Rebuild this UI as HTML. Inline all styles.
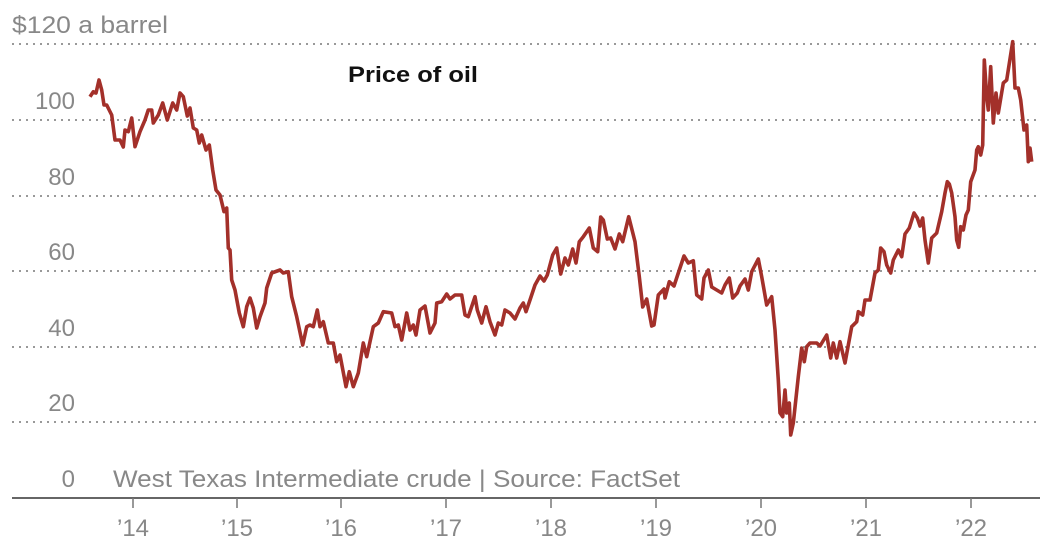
<!DOCTYPE html>
<html><head><meta charset="utf-8"><style>
html,body{margin:0;padding:0;background:#fff;}
svg{display:block;font-family:"Liberation Sans",sans-serif;}
</style></head><body>
<svg width="1050" height="549" viewBox="0 0 1050 549">
<g stroke="#999" stroke-width="2" stroke-dasharray="2 5" fill="none">
<line x1="12" y1="44" x2="1040" y2="44"/>
<line x1="12" y1="120" x2="1040" y2="120"/>
<line x1="12" y1="196" x2="1040" y2="196"/>
<line x1="12" y1="271" x2="1040" y2="271"/>
<line x1="12" y1="347" x2="1040" y2="347"/>
<line x1="12" y1="422" x2="1040" y2="422"/>
</g>
<g fill="#888" font-size="24" text-anchor="end">
<text x="75" y="109">100</text>
<text x="75" y="185">80</text>
<text x="75" y="260">60</text>
<text x="75" y="336">40</text>
<text x="75" y="411">20</text>
<text x="75" y="487">0</text>
</g>
<text x="12" y="33" fill="#888" font-size="24" textLength="156" lengthAdjust="spacingAndGlyphs">$120 a barrel</text>
<text x="113" y="487" fill="#888" font-size="24" textLength="567" lengthAdjust="spacingAndGlyphs">West Texas Intermediate crude | Source: FactSet</text>
<text x="348" y="82" fill="#111" font-size="22" font-weight="bold" textLength="130" lengthAdjust="spacingAndGlyphs">Price of oil</text>
<line x1="12" y1="498" x2="1040" y2="498" stroke="#333" stroke-width="1.5"/>
<g stroke="#777" stroke-width="1.5">
<line x1="133" y1="498" x2="133" y2="508"/><line x1="237" y1="498" x2="237" y2="508"/>
<line x1="341" y1="498" x2="341" y2="508"/><line x1="446" y1="498" x2="446" y2="508"/>
<line x1="551" y1="498" x2="551" y2="508"/><line x1="656" y1="498" x2="656" y2="508"/>
<line x1="761" y1="498" x2="761" y2="508"/><line x1="866" y1="498" x2="866" y2="508"/>
<line x1="971" y1="498" x2="971" y2="508"/>
</g>
<g fill="#888" font-size="24" text-anchor="middle">
<text x="133" y="536">’14</text><text x="237" y="536">’15</text><text x="341" y="536">’16</text>
<text x="446" y="536">’17</text><text x="551" y="536">’18</text><text x="656" y="536">’19</text>
<text x="761" y="536">’20</text><text x="866" y="536">’21</text><text x="971" y="536">’22</text>
</g>
<polyline fill="none" stroke="#a3302a" stroke-width="3.6" stroke-linejoin="round" points="
90,96.7 93.3,91.7 96,93 99,80 101.7,90 104,105 106.7,105 111.7,115 115,140 120,140 123.3,147 125,130 128.3,131.7 131.7,118 135,146.7 140,131.7 145,120 148.3,110 151.7,110 153.3,123 158.3,115 162.7,103 167.3,120 172.7,103 176.7,110 180,93 183.3,96.7 187.3,116 190,108 193.3,128 196.7,130 199.3,143 201.7,135 206,150 209.3,145 212.7,170 216,190 220,195 224,211.7 226.7,208 228.3,248 230,250 231.7,280 235,290 239.3,313 243.3,326.7 246.7,306.7 250,298 253.3,308 256.7,328 260,316.7 265,303 266.7,288 271.7,273 280,270 283.3,273 288.3,271.7 291.7,296.7 296.7,316.7 302.7,345 306.7,326.7 310,325 313.3,326.7 317.3,310 320,326.7 323.3,321.7 328.3,343 333.3,343 336.7,361.7 340,355 346,386.7 349.3,371.7 353.3,386.7 358.3,373 363.3,343 366.7,356.7 373.3,326.7 378.3,323 383.3,311.7 391.7,313 395,326.7 398.3,325 401.7,340 406.7,313 410,330 413.3,325 416,335 420,310 425,306 430,333 435,323 436.7,303 441.7,301.7 446.7,294 450,299 455,295 461.7,295 465,315 468.3,316.7 475,296.7 477.3,310 481.7,323 486,306.7 490,321.7 495,335 498.3,323 501.7,325 505,310 510,313 515,319 520,308 523.3,303 526,311.7 530,300 535,285 540,276 544,281 547.3,275 552.7,255 556.7,248 560.7,274 565,258 568.3,265 572.7,249 576,263 579.3,241.7 583.3,236.7 589.3,228 593.3,248 597.7,251.7 600.7,217 603.3,220 607.3,239 610.7,238 615,249 619.3,234 622.7,241.7 628.7,216.7 635,241.7 639.3,276.7 642.7,307 646.7,299 651.7,326 654,325 658.3,295 664,289 665,298 669.3,281.7 674,286 679.3,270 684,256 688.3,263 693.3,260.7 696.7,295 701.7,299 704,278 708.3,270 711.7,287 716.7,290 721.7,293 725,285 729.3,278 732.7,298 737.3,293 740,286 745,279 748.3,290 751.7,271.7 758.3,259 761.7,276.7 766.7,305 771.7,296.7 775,330 778.3,380 780,413 782.7,416.7 785,390 786.7,413 789.3,403 790.7,435 793.3,423 798.3,376.7 801.7,348 804.3,361.7 806.7,346.7 810,343 816.7,343 820,346 826.7,335 830.7,358 833.3,343 836.7,358 840,341.7 845,363 851.7,326.7 856.7,321.7 858.3,311.7 862.7,315 865,300 870,300 875,273 878.3,270 880.7,248 884,251.7 886.7,265 890.7,273 893.3,260 898.3,250 901.7,256.7 905,234 909.3,228 914,213 917.3,218 920,226 922.7,218 925,240 928.3,263 931.7,238 936.7,233 941.7,211.7 945,193 947.3,181.7 949.3,184 951.7,193 955,216.7 956.7,240 958.7,247.3 960.7,226.7 963.3,230 966,215 968.3,210 970.7,181.7 975,170 976.7,150 978.3,146.7 980.7,155 982.7,145 984.3,60 986.7,96.7 988.3,110 990.7,66.7 993.3,123 996,93 998.3,113 1003.3,83 1006.7,80 1012.7,41.7 1015,88 1018.3,88 1020.7,100 1024,130 1026.7,125 1028.3,161.7 1030,148 1031.7,161.7"/>
</svg>
</body></html>
